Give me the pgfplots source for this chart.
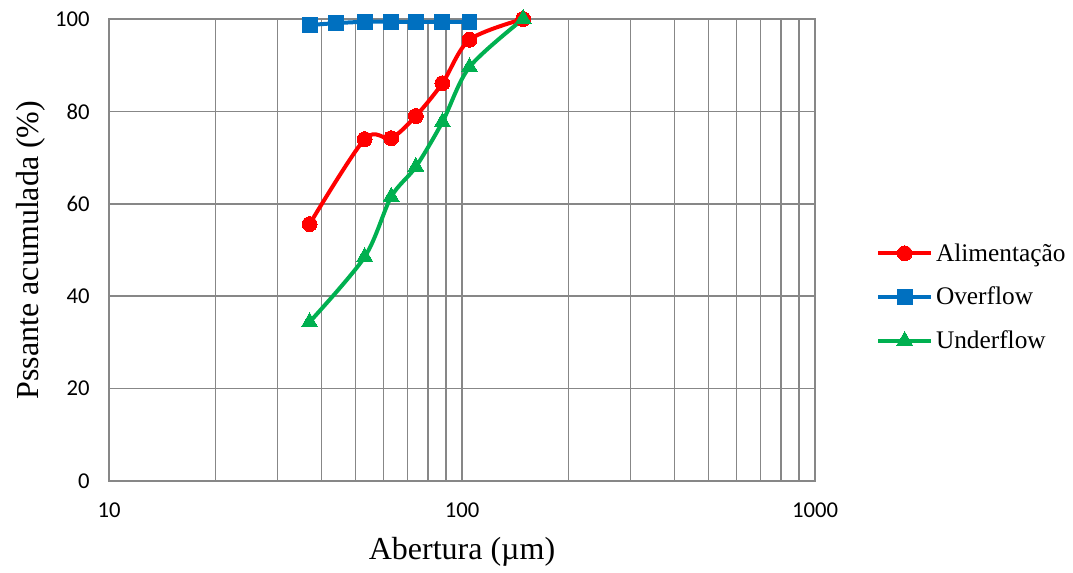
\documentclass[border=0pt]{standalone}
\usepackage{fontspec}
\setmainfont{Liberation Serif}
\newfontfamily\calibri{Carlito}
\usepackage{pgfplots}
\pgfplotsset{compat=1.18}
\definecolor{serred}{HTML}{FF0000}
\definecolor{serblue}{HTML}{0070C0}
\definecolor{sergreen}{HTML}{00B050}
\definecolor{gridgray}{HTML}{878787}

\begin{document}
\begin{tikzpicture}
\useasboundingbox (-81.75pt,-68.25pt) rectangle (723pt,360.75pt);
\begin{axis}[
  at={(0,0)}, anchor=south west,
  scale only axis,
  width=529.5pt, height=346.5pt,
  xmode=log,
  xmin=10, xmax=1000,
  ymin=0, ymax=100,
  xtick={10,100,1000},
  xticklabels={10,100,1000},
  ytick={0,20,...,100},
  /pgf/number format/assume math mode=true,
  tick label style={font=\calibri\fontsize{17}{20}\selectfont},
  xticklabel style={yshift=-13pt},
  yticklabel style={xshift=-11pt},
  major tick length=0pt, minor tick length=0pt,
  xmajorgrids, xminorgrids, ymajorgrids,
  grid style={draw=gridgray, line width=1.1pt},
  minor grid style={draw=gridgray, line width=1.1pt},
  axis line style={draw=gridgray, line width=1.1pt},
  xlabel={Abertura (µm)},
  ylabel={Pssante acumulada (\%)},
  label style={font=\fontsize{24}{28}\selectfont},
  xlabel style={at={(axis description cs:0.5,0)}, anchor=center, yshift=-53pt},
  ylabel style={at={(axis description cs:0,0.5)}, anchor=center, yshift=59pt},
  legend style={at={(axis description cs:1.086,0.398)}, anchor=west,
    draw=none, fill=none, font=\fontsize{19}{22}\selectfont,
    row sep=14pt, inner sep=0pt},
  legend cell align=left,
  legend image code/.code={\draw[mark repeat=2,mark phase=2,#1,sharp plot]
    plot coordinates {(0pt,0pt)(20pt,0pt)(40pt,0pt)};},
  every axis plot/.append style={line width=3pt, smooth, tension=0.5},
  clip=false,
]
\addplot[color=serred, mark=*, mark size=5.6pt, mark options={line width=0pt}] coordinates {
  (37,55.6) (53,74.0) (63,74.2) (74,79.0) (88,86.1) (105,95.5) (149,100)
};
\addplot[color=serblue, mark=square*, mark size=5.6pt, mark options={line width=0pt}] coordinates {
  (37,98.7) (44,99.1) (53,99.4) (63,99.4) (74,99.4) (88,99.4) (105,99.4)
};
\addplot[color=sergreen, mark=triangle*, mark size=7pt, mark options={line width=0pt}] coordinates {
  (37,34.4) (53,48.5) (63,61.5) (74,68.0) (88,77.7) (105,89.6) (149,100)
};
\legend{Alimentação,Overflow,Underflow}
\end{axis}
\end{tikzpicture}
\end{document}
